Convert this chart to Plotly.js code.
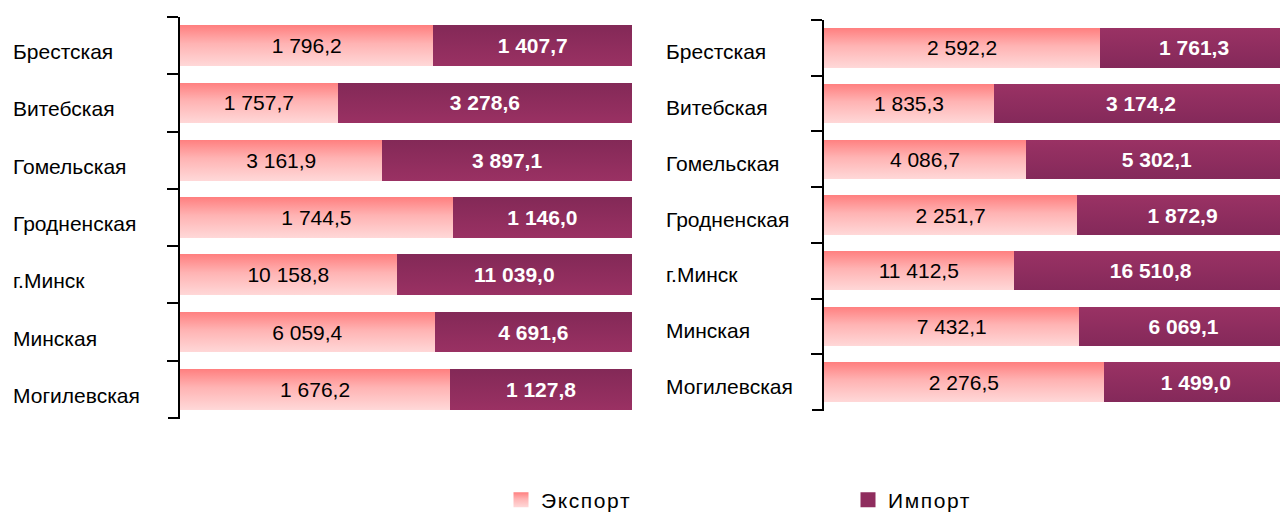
<!DOCTYPE html>
<html>
<head>
<meta charset="utf-8">
<script src="https://cdn.plot.ly/plotly-3.0.1.min.js"></script>
<style>
html,body{margin:0;padding:0;background:#fff;}
#chart{width:1280px;height:512px;}
</style>
</head>
<body>
<div id="chart"></div>
<script>
const categories = ['Брестская','Витебская','Гомельская','Гродненская','г.Минск','Минская','Могилевская'];
const exportLeft  = [1796.2, 1757.7, 3161.9, 1744.5, 10158.8, 6059.4, 1676.2];
const importLeft  = [1407.7, 3278.6, 3897.1, 1146.0, 11039.0, 4691.6, 1127.8];
const exportRight = [2592.2, 1835.3, 4086.7, 2251.7, 11412.5, 7432.1, 2276.5];
const importRight = [1761.3, 3174.2, 5302.1, 1872.9, 16510.8, 6069.1, 1499.0];
const seriesNames = ['Экспорт','Импорт'];

function fmt(v){
  const s = v.toFixed(1).split('.');
  const intPart = s[0].replace(/\B(?=(\d{3})+(?!\d))/g, ' ');
  return intPart + ',' + s[1];
}

const FONT = 'Arial, "Liberation Sans", sans-serif';
const expColor = '#FFABAB';
const impColor = '#8F2D5E';

function barTrace(vals, name, xa, ya, isImport, showLegend){
  return {
    type:'bar', orientation:'h', name:name,
    y:categories, x:vals, xaxis:xa, yaxis:ya,
    text: vals.map(fmt), textposition:'inside', insidetextanchor:'middle', textangle:0,
    constraintext:'none',
    textfont:{family:FONT, size:21, color: isImport ? '#ffffff' : '#000000', weight: isImport ? 'bold' : 'normal'},
    marker:{color: isImport ? impColor : expColor, line:{width:0}},
    showlegend: showLegend, legendgroup:name, hoverinfo:'none'
  };
}

const data = [
  barTrace(exportLeft, seriesNames[0], 'x', 'y', false, true),
  barTrace(importLeft, seriesNames[1], 'x', 'y', true, true),
  barTrace(exportRight, seriesNames[0], 'x2', 'y2', false, false),
  barTrace(importRight, seriesNames[1], 'x2', 'y2', true, false)
];

const n = categories.length;

const yCommon = {
  type:'category', range:[n - 0.5, -0.5], showline:true, linecolor:'#000', linewidth:2,
  ticks:'outside', ticklen:11, tickwidth:2, tickcolor:'#000', tickson:'boundaries',
  showticklabels:false, showgrid:false, zeroline:false, fixedrange:true
};

const annotations = [];
categories.forEach(c => {
  annotations.push({xref:'paper', yref:'y', x:11/1280, y:c, xanchor:'left', yanchor:'middle', yshift:-6, text:c, showarrow:false, font:{family:FONT, size:21, color:'#000'}});
  annotations.push({xref:'paper', yref:'y2', x:664/1280, y:c, xanchor:'left', yanchor:'middle', yshift:-4, text:c, showarrow:false, font:{family:FONT, size:21, color:'#000'}});
});

// closing tick at the bottom end of each category axis
const shapes = [
  {type:'line', xref:'paper', yref:'y domain', x0:168/1280, x1:180/1280, y0:0, y1:0, line:{color:'#000', width:2}},
  {type:'line', xref:'paper', yref:'y2 domain', x0:812/1280, x1:824/1280, y0:0, y1:0, line:{color:'#000', width:2}}
];

const layout = {
  width:1280, height:512,
  margin:{l:0, r:0, t:0, b:0, autoexpand:false},
  paper_bgcolor:'#fff', plot_bgcolor:'rgba(0,0,0,0)',
  barmode:'stack', barnorm:'percent', bargap:0.29,
  font:{family:FONT, color:'#000'},
  xaxis:{domain:[180/1280, 632/1280], range:[0,100], visible:false, fixedrange:true},
  xaxis2:{domain:[824/1280, 1], range:[0,98.3], visible:false, fixedrange:true, anchor:'y2'},
  yaxis:Object.assign({}, yCommon, {domain:[1-418/512, 1-17/512], anchor:'x'}),
  yaxis2:Object.assign({}, yCommon, {domain:[1-410/512, 1-20/512], anchor:'x2'}),
  legend:{orientation:'h', x:501/1280, xanchor:'left', y:12/512, yanchor:'middle',
          font:{family:FONT, size:21, color:'#000'}, entrywidth:302, entrywidthmode:'pixels',
          traceorder:'normal', bgcolor:'rgba(0,0,0,0)'},
  annotations:annotations,
  shapes:shapes,
  showlegend:true
};

Plotly.newPlot('chart', data, layout, {staticPlot:true, displayModeBar:false}).then(gd => {
  const svg = gd.querySelector('svg.main-svg');
  const ns = 'http://www.w3.org/2000/svg';
  let defs = svg.querySelector('defs');
  if(!defs){ defs = document.createElementNS(ns,'defs'); svg.insertBefore(defs, svg.firstChild); }
  function grad(id, stops){
    const g = document.createElementNS(ns,'linearGradient');
    g.setAttribute('id', id); g.setAttribute('x1','0'); g.setAttribute('y1','0'); g.setAttribute('x2','0'); g.setAttribute('y2','1');
    stops.forEach(([o,c]) => { const s = document.createElementNS(ns,'stop'); s.setAttribute('offset',o); s.setAttribute('stop-color',c); g.appendChild(s); });
    defs.appendChild(g);
  }
  grad('gExp', [['0','#FF7F7F'],['0.45','#FFB3B3'],['1','#FFD8D8']]);
  grad('gImpL', [['0','#832957'],['1','#9A3163']]);
  grad('gImpR', [['0','#9A3264'],['1','#84295A']]);
  function paint(sel, idx, fill){
    const traces = gd.querySelectorAll(sel + ' .trace.bars');
    if(traces[idx]) traces[idx].querySelectorAll('.point path').forEach(p => { p.style.fill = fill; });
  }
  paint('.subplot.xy', 0, 'url(#gExp)');
  paint('.subplot.xy', 1, 'url(#gImpL)');
  paint('.subplot.x2y2', 0, 'url(#gExp)');
  paint('.subplot.x2y2', 1, 'url(#gImpR)');
  const lt = gd.querySelectorAll('.legend .traces');
  lt.forEach((t, i) => {
    t.querySelectorAll('.legendpoints path').forEach(p => {
      p.setAttribute('d', 'M7.5,7.5H-7.5V-7.5H7.5Z');
      if(i === 0) p.style.fill = 'url(#gExp)';
    });
    const tx = t.querySelector('.legendtext');
    if(tx){ tx.style.letterSpacing = '1.6px'; }
  });
});
</script>
</body>
</html>
